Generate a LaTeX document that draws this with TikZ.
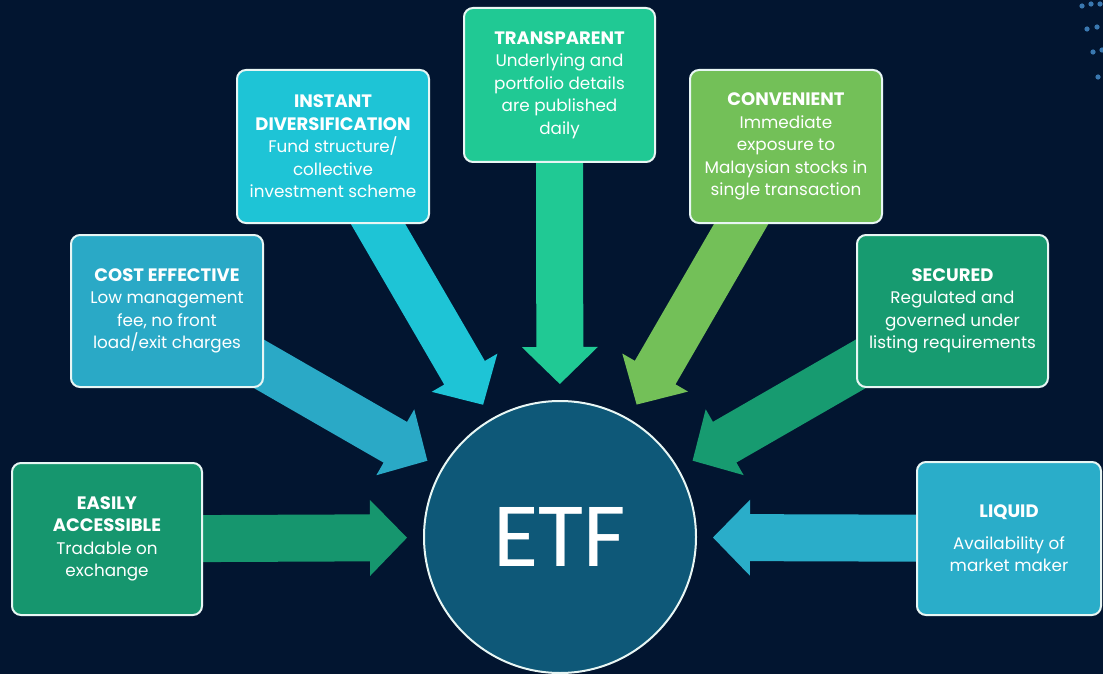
\documentclass[tikz,border=0pt]{standalone}
\usepackage{fontspec}
\setmainfont{Poppins}
\newfontfamily\etffont{Carlito}
\usetikzlibrary{calc}
\definecolor{bgcol}{RGB}{2,21,48}
\definecolor{cEA}{RGB}{22,150,110}
\definecolor{cCE}{RGB}{42,169,198}
\definecolor{cID}{RGB}{30,196,214}
\definecolor{cTR}{RGB}{32,201,148}
\definecolor{cCV}{RGB}{115,192,88}
\definecolor{cSE}{RGB}{23,155,112}
\definecolor{cLQ}{RGB}{42,173,201}
\definecolor{cETF}{RGB}{14,88,120}
\definecolor{cEdge}{RGB}{232,246,244}
\definecolor{cDot}{RGB}{58,120,176}
\pgfdeclarelayer{bglayer}
\pgfdeclarelayer{arrowlayer}
\pgfsetlayers{bglayer,arrowlayer,main}
\newcommand\ttl[1]{{\fontsize{18}{22.5}\selectfont\bfseries #1}}
\tikzset{
  infobox/.style={draw=cEdge, line width=2pt, rounded corners=9pt, text=white,
    align=center, inner sep=0pt, font=\fontsize{16.8}{22.5}\selectfont},
  dotmark/.style={fill=cDot, draw=none},
}
\newcommand\blockarrow[2]{%
  \begin{pgfonlayer}{arrowlayer}
  \coordinate (#1-tip) at ($(etf.center)!153pt!(#1.center)$);
  \coordinate (#1-base) at ($(#1-tip)!37pt!(#1.center)$);
  \fill[#2] ($(#1.center)!23.5pt!90:(#1-tip)$)
    -- ($(#1-base)!23.5pt!90:(#1-tip)$)
    -- ($(#1-base)!38pt!90:(#1-tip)$)
    -- (#1-tip)
    -- ($(#1-base)!38pt!-90:(#1-tip)$)
    -- ($(#1-base)!23.5pt!-90:(#1-tip)$)
    -- ($(#1.center)!23.5pt!-90:(#1-tip)$) -- cycle;
  \end{pgfonlayer}}
\begin{document}
\begin{tikzpicture}[x=1pt,y=-1pt]
\useasboundingbox (0,0) rectangle (1103,674);
\begin{pgfonlayer}{bglayer}
\fill[bgcol] (0,0) rectangle (1103,674);
\end{pgfonlayer}

% decorative dots (top right)
\foreach \px/\py in {1082/6,1091/4,1100/4,1087/29,1097/27,1093/52,1102/50,1098/77}
  \fill[dotmark] (\px,\py) circle (2.6pt);

\node[circle, minimum size=272pt, inner sep=0pt, outer sep=0pt, fill=cETF, draw=cEdge,
  line width=2pt, text=white, font=\etffont\fontsize{92}{92}\selectfont] (etf) at (560,537) {ETF};

\node[infobox, fill=cEA, minimum width=190pt, minimum height=152pt] (ea) at (107,539)
  {\ttl{EASILY}\\\ttl{ACCESSIBLE}\\Tradable on\\exchange};
\node[infobox, fill=cCE, minimum width=192pt, minimum height=152pt] (ce) at (167,311)
  {\ttl{COST EFFECTIVE}\\Low management\\fee, no front\\load/exit charges};
\node[infobox, fill=cID, minimum width=192pt, minimum height=153pt] (id) at (333,146.5)
  {\ttl{INSTANT}\\\ttl{DIVERSIFICATION}\\Fund structure/\\collective\\investment scheme};
\node[infobox, fill=cTR, minimum width=191pt, minimum height=154pt] (tr) at (559.5,85)
  {\ttl{TRANSPARENT}\\Underlying and\\portfolio details\\are published\\daily};
\node[infobox, fill=cCV, minimum width=192pt, minimum height=153pt] (cv) at (786,146.5)
  {\ttl{CONVENIENT}\\Immediate\\exposure to\\Malaysian stocks in\\single transaction};
\node[infobox, fill=cSE, minimum width=191pt, minimum height=152pt] (se) at (952.5,311)
  {\ttl{SECURED}\\Regulated and\\governed under\\listing requirements};
\node[infobox, fill=cLQ, minimum width=184pt, minimum height=153pt] (lq) at (1009,538.5)
  {\ttl{LIQUID}\\[9pt]Availability of\\market maker};

\blockarrow{ea}{cEA}
\blockarrow{ce}{cCE}
\blockarrow{id}{cID}
\blockarrow{tr}{cTR}
\blockarrow{cv}{cCV}
\blockarrow{se}{cSE}
\blockarrow{lq}{cLQ}
\end{tikzpicture}
\end{document}
